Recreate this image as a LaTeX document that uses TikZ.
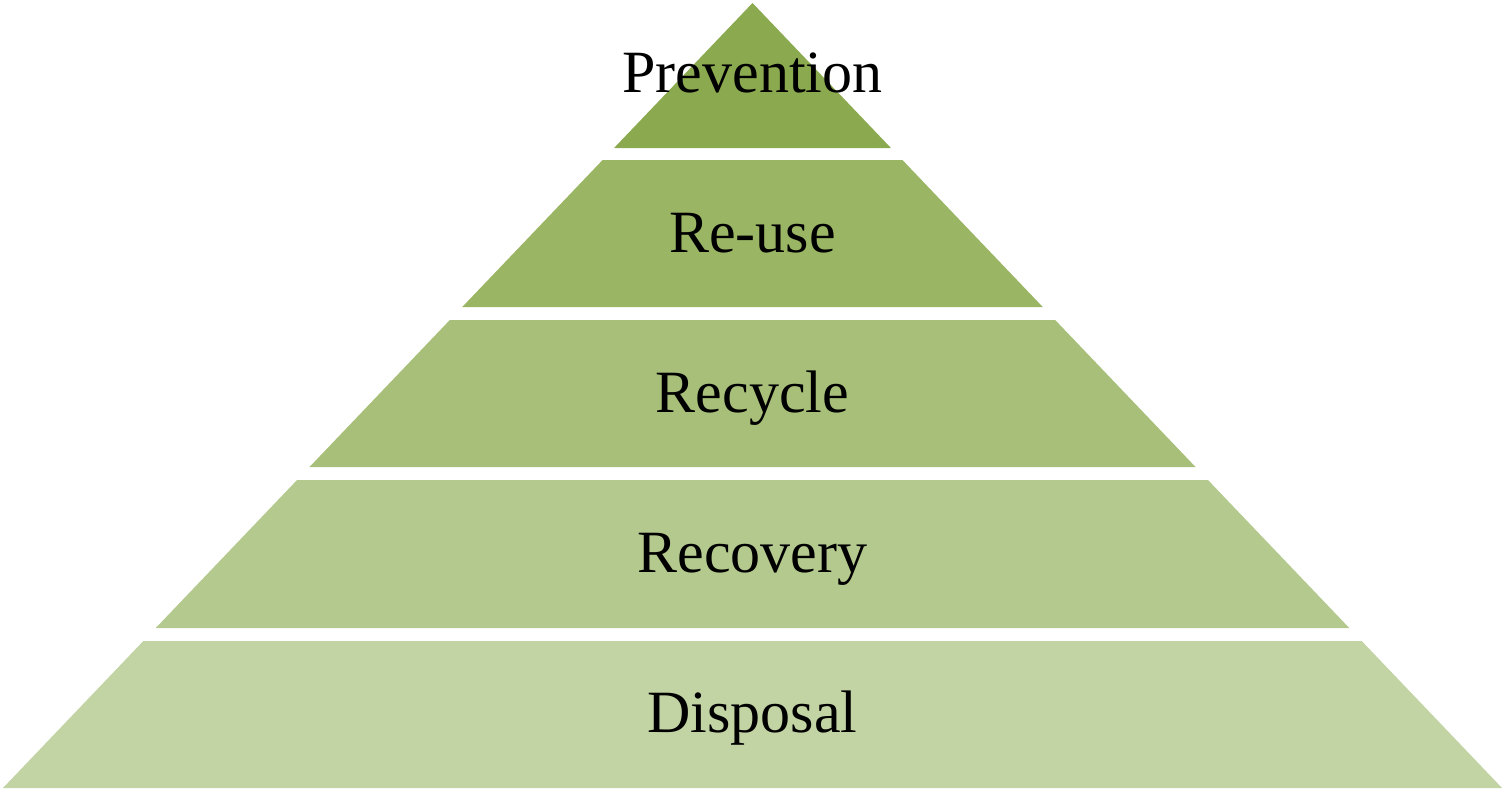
\documentclass[tikz,border=0pt]{standalone}
\usepackage{fontspec}
\setmainfont{Liberation Serif}
\definecolor{levelA}{HTML}{8BA94F}
\definecolor{levelB}{HTML}{9AB563}
\definecolor{levelC}{HTML}{A7BF78}
\definecolor{levelD}{HTML}{B4C98D}
\definecolor{levelE}{HTML}{C2D3A4}
\begin{document}
\begin{tikzpicture}[x=0.5pt, y=-0.5pt, bandtext/.style={anchor=base, inner sep=0pt, font=\fontsize{30}{36}\selectfont}]
    \useasboundingbox (0,0) rectangle (1507,793);
    % bands of the pyramid, cut from one triangle
    \foreach \ytop/\ybot/\col/\name/\txt/\ybase in {3/148/levelA/prevention/Prevention/92,
        160/307/levelB/reuse/Re-use/252.5, 320/467/levelC/recycle/Recycle/412,
        480/628/levelD/recovery/Recovery/572, 641/788/levelE/disposal/Disposal/732.5}{
        \fill[\col] ({752.5-0.9548*(\ytop-3)},\ytop) -- ({752.5+0.9548*(\ytop-3)},\ytop)
            -- ({752.5+0.9548*(\ybot-3)},\ybot) -- ({752.5-0.9548*(\ybot-3)},\ybot) -- cycle;
        \node[bandtext] (\name) at (752.5,\ybase) {\txt};
    }
\end{tikzpicture}
\end{document}
